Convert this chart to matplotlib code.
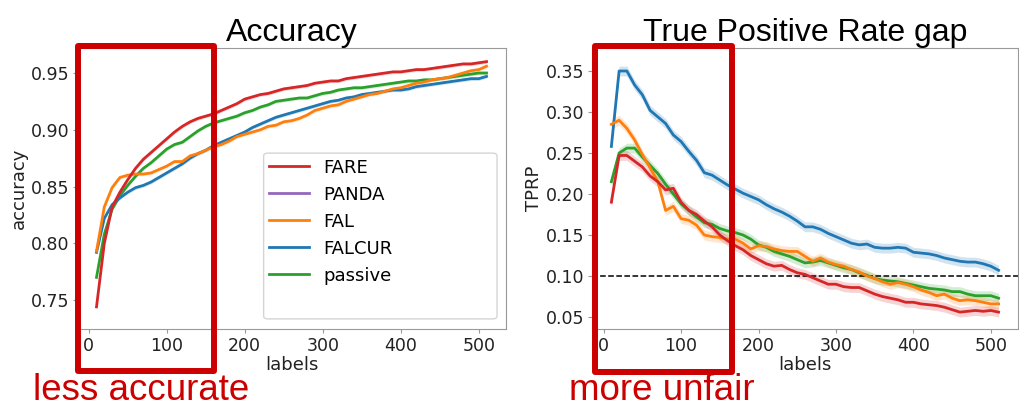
import matplotlib.pyplot as plt
from matplotlib.patches import Rectangle, FancyBboxPatch
import numpy as np

# number of labels on the x axis
labels = list(range(10, 520, 10))

# accuracy curves
acc_fare = [0.744, 0.800, 0.832, 0.845, 0.856, 0.866, 0.874, 0.880, 0.886, 0.892,
            0.898, 0.903, 0.907, 0.910, 0.912, 0.914, 0.917, 0.920, 0.923, 0.927,
            0.929, 0.931, 0.932, 0.934, 0.936, 0.937, 0.938, 0.939, 0.941, 0.942,
            0.943, 0.943, 0.945, 0.946, 0.947, 0.948, 0.949, 0.950, 0.951, 0.951,
            0.952, 0.953, 0.953, 0.954, 0.955, 0.956, 0.957, 0.958, 0.958, 0.959, 0.960]
acc_fal = [0.793, 0.832, 0.849, 0.858, 0.860, 0.861, 0.861, 0.862, 0.865, 0.868,
           0.872, 0.872, 0.877, 0.879, 0.882, 0.885, 0.887, 0.890, 0.894, 0.896,
           0.898, 0.900, 0.903, 0.904, 0.907, 0.908, 0.910, 0.913, 0.917, 0.919,
           0.921, 0.922, 0.925, 0.927, 0.929, 0.931, 0.932, 0.934, 0.936, 0.937,
           0.939, 0.941, 0.942, 0.944, 0.945, 0.946, 0.948, 0.950, 0.952, 0.953, 0.956]
acc_falcur = [0.792, 0.822, 0.834, 0.840, 0.845, 0.849, 0.851, 0.854, 0.858, 0.862,
              0.866, 0.870, 0.875, 0.879, 0.882, 0.886, 0.889, 0.892, 0.895, 0.898,
              0.902, 0.905, 0.908, 0.911, 0.913, 0.915, 0.917, 0.919, 0.921, 0.923,
              0.925, 0.926, 0.928, 0.929, 0.931, 0.932, 0.933, 0.934, 0.935, 0.935,
              0.936, 0.938, 0.939, 0.940, 0.941, 0.942, 0.943, 0.944, 0.945, 0.945, 0.947]
acc_passive = [0.770, 0.808, 0.830, 0.842, 0.851, 0.859, 0.866, 0.871, 0.877, 0.883,
               0.887, 0.889, 0.894, 0.899, 0.903, 0.906, 0.908, 0.910, 0.912, 0.915,
               0.917, 0.920, 0.922, 0.925, 0.926, 0.927, 0.928, 0.928, 0.930, 0.932,
               0.933, 0.935, 0.936, 0.937, 0.937, 0.938, 0.939, 0.940, 0.941, 0.942,
               0.943, 0.943, 0.944, 0.944, 0.945, 0.946, 0.947, 0.948, 0.949, 0.950, 0.950]
acc_err = 0.0015

# true positive rate gap curves
tprp_fare = [0.190, 0.247, 0.247, 0.240, 0.233, 0.222, 0.215, 0.205, 0.207, 0.190,
             0.180, 0.175, 0.167, 0.160, 0.150, 0.143, 0.137, 0.132, 0.125, 0.120,
             0.115, 0.112, 0.113, 0.108, 0.104, 0.102, 0.098, 0.094, 0.090, 0.090,
             0.087, 0.086, 0.086, 0.082, 0.078, 0.075, 0.073, 0.071, 0.068, 0.068,
             0.066, 0.065, 0.064, 0.062, 0.059, 0.056, 0.057, 0.058, 0.057, 0.058, 0.056]
tprp_fal = [0.285, 0.290, 0.280, 0.266, 0.248, 0.232, 0.215, 0.180, 0.185, 0.170,
            0.168, 0.162, 0.150, 0.148, 0.147, 0.145, 0.145, 0.140, 0.133, 0.137,
            0.136, 0.133, 0.131, 0.130, 0.130, 0.124, 0.118, 0.122, 0.117, 0.114,
            0.112, 0.108, 0.105, 0.100, 0.097, 0.093, 0.090, 0.092, 0.090, 0.087,
            0.083, 0.080, 0.076, 0.078, 0.073, 0.070, 0.071, 0.070, 0.068, 0.066, 0.066]
tprp_falcur = [0.258, 0.350, 0.350, 0.333, 0.321, 0.302, 0.294, 0.286, 0.272, 0.264,
               0.252, 0.241, 0.226, 0.223, 0.217, 0.211, 0.206, 0.201, 0.197, 0.193,
               0.187, 0.182, 0.178, 0.173, 0.167, 0.160, 0.160, 0.157, 0.152, 0.148,
               0.144, 0.140, 0.138, 0.139, 0.135, 0.134, 0.134, 0.135, 0.134, 0.129,
               0.128, 0.127, 0.125, 0.122, 0.120, 0.118, 0.117, 0.117, 0.115, 0.112, 0.107]
tprp_passive = [0.215, 0.250, 0.256, 0.256, 0.245, 0.235, 0.225, 0.212, 0.200, 0.188,
                0.180, 0.172, 0.165, 0.163, 0.158, 0.155, 0.153, 0.150, 0.145, 0.138,
                0.135, 0.130, 0.127, 0.124, 0.120, 0.116, 0.117, 0.119, 0.116, 0.113,
                0.110, 0.108, 0.104, 0.101, 0.097, 0.095, 0.094, 0.093, 0.091, 0.089,
                0.087, 0.085, 0.084, 0.083, 0.081, 0.081, 0.078, 0.076, 0.076, 0.076, 0.073]
tprp_err = 0.006
fair_threshold = 0.10

names = ['FARE', 'PANDA', 'FAL', 'FALCUR', 'passive']
colors = ['tab:red', 'tab:purple', 'tab:orange', 'tab:blue', 'tab:green']

acc_series = {'FARE': acc_fare, 'PANDA': [], 'FAL': acc_fal,
              'FALCUR': acc_falcur, 'passive': acc_passive}
tprp_series = {'FARE': tprp_fare, 'PANDA': [], 'FAL': tprp_fal,
               'FALCUR': tprp_falcur, 'passive': tprp_passive}

red = '#cc0000'
fig = plt.figure(figsize=(10.2, 4.07), dpi=100)
ax1 = fig.add_axes([0.0755, 0.1916, 0.4206, 0.6904])
ax2 = fig.add_axes([0.5804, 0.1916, 0.4176, 0.6904])


def style(ax):
    for s in ax.spines.values():
        s.set_color('#999999')
    ax.tick_params(labelsize=12.5, length=3, pad=2.5, color='#999999',
                   labelcolor='#222222')
    ax.set_xlabel('labels', fontsize=13, labelpad=1, color='#222222')
    ax.set_xlim(-15, 535)
    ax.set_xticks([0, 100, 200, 300, 400, 500])


# Accuracy
draw_order = ['passive', 'FALCUR', 'FAL', 'PANDA', 'FARE']
for name in draw_order:
    c = colors[names.index(name)]
    y = np.array(acc_series[name])
    if len(y):
        ax1.fill_between(labels, y - acc_err, y + acc_err, color=c, alpha=0.2, lw=0)
        ax1.plot(labels, y, color=c, lw=2, zorder=3)
for name, c in zip(names, colors):
    ax1.plot([], [], color=c, lw=2, label=name)
style(ax1)
ax1.set_ylim(0.7245, 0.972)
ax1.set_yticks([0.75, 0.80, 0.85, 0.90, 0.95])
ax1.set_ylabel('accuracy', fontsize=13, labelpad=2, color='#222222')
ax1.set_title('Accuracy', fontsize=23, family='Liberation Sans', pad=4)

# legend frame is taller than its entries in the original
frame = FancyBboxPatch((0.435, 0.036), 0.544, 0.59, transform=ax1.transAxes,
                       boxstyle='round,pad=0,rounding_size=0.01', fc='white',
                       ec='#d5d5d5', lw=1, zorder=5)
ax1.add_patch(frame)
leg = ax1.legend(loc='upper left', bbox_to_anchor=(0.431, 0.632), fontsize=13,
                 handlelength=2.2, frameon=False, borderaxespad=0)
leg.set_zorder(6)

# TPRP
for name in draw_order:
    c = colors[names.index(name)]
    y = np.array(tprp_series[name])
    if len(y):
        ax2.fill_between(labels, y - tprp_err, y + tprp_err, color=c, alpha=0.2, lw=0)
        ax2.plot(labels, y, color=c, lw=2, zorder=3)
ax2.axhline(fair_threshold, color='black', ls='--', lw=1.1)
style(ax2)
ax2.set_ylim(0.0354, 0.378)
ax2.set_yticks([0.05, 0.10, 0.15, 0.20, 0.25, 0.30, 0.35])
ax2.set_ylabel('TPRP', fontsize=13, labelpad=2, color='#222222')
ax2.set_title('True Positive Rate gap', fontsize=23, family='Liberation Sans', pad=4)

# highlight boxes and notes
fig.patches.append(Rectangle((0.0765, 0.0885), 0.1333, 0.7985, transform=fig.transFigure,
                             fill=False, ec=red, lw=4.3, joinstyle='round', zorder=10))
fig.patches.append(Rectangle((0.5833, 0.086), 0.1343, 0.801, transform=fig.transFigure,
                             fill=False, ec=red, lw=4.3, joinstyle='round', zorder=10))
fig.text(0.032, 0.016, 'less accurate', color=red, fontsize=26.5,
         family='Liberation Sans', va='baseline')
fig.text(0.558, 0.016, 'more unfair', color=red, fontsize=26.5,
         family='Liberation Sans', va='baseline')

fig.savefig('out.png', dpi=100)
